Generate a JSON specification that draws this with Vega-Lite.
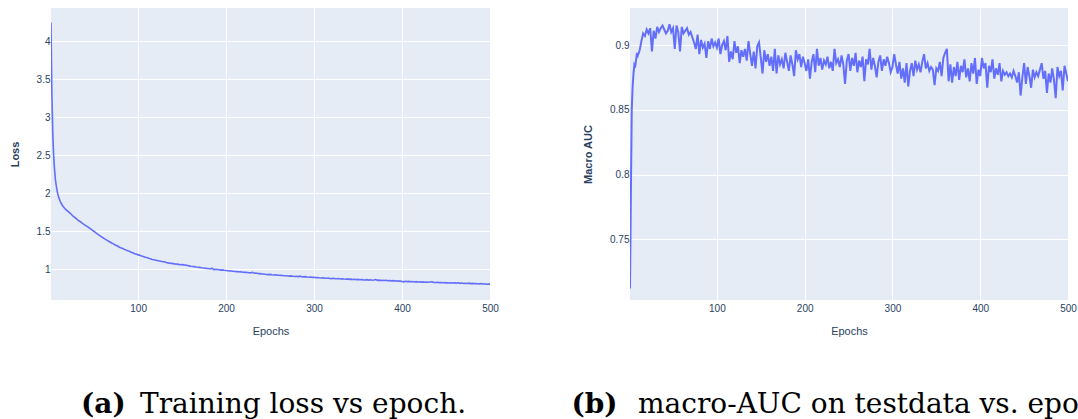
{
  "$schema": "https://vega.github.io/schema/vega-lite/v6.json",
  "padding": {"left": 9, "top": 8, "right": 0, "bottom": 0},
  "background": "#ffffff",
  "datasets": {
    "runs": [
      {"e":1,"l":4.25,"a":0.712},{"e":2,"l":3.3,"a":0.785},{"e":3,"l":2.8,"a":0.850},{"e":4,"l":2.5,"a":0.868},{"e":5,"l":2.32,"a":0.878},
      {"e":6,"l":2.18,"a":0.885},{"e":7,"l":2.1,"a":0.884},{"e":8,"l":2.03,"a":0.889},{"e":9,"l":1.98,"a":0.894},{"e":10,"l":1.94,"a":0.892},
      {"e":12,"l":1.88,"a":0.896},{"e":14,"l":1.84,"a":0.903},{"e":16,"l":1.81,"a":0.909},{"e":18,"l":1.785,"a":0.907},{"e":20,"l":1.765,"a":0.912},
      {"e":22,"l":1.745,"a":0.909},{"e":24,"l":1.725,"a":0.913},{"e":26,"l":1.70,"a":0.895},{"e":28,"l":1.685,"a":0.911},{"e":30,"l":1.665,"a":0.905},
      {"e":32,"l":1.645,"a":0.914},{"e":34,"l":1.63,"a":0.910},{"e":36,"l":1.61,"a":0.913},{"e":38,"l":1.595,"a":0.915},{"e":40,"l":1.578,"a":0.912},
      {"e":42,"l":1.565,"a":0.909},{"e":44,"l":1.55,"a":0.911},{"e":46,"l":1.532,"a":0.916},{"e":48,"l":1.515,"a":0.910},{"e":50,"l":1.498,"a":0.913},
      {"e":52,"l":1.48,"a":0.897},{"e":54,"l":1.462,"a":0.915},{"e":56,"l":1.447,"a":0.910},{"e":58,"l":1.43,"a":0.895},{"e":60,"l":1.416,"a":0.914},
      {"e":62,"l":1.40,"a":0.909},{"e":64,"l":1.387,"a":0.911},{"e":66,"l":1.372,"a":0.913},{"e":68,"l":1.36,"a":0.908},{"e":70,"l":1.346,"a":0.910},
      {"e":72,"l":1.335,"a":0.906},{"e":74,"l":1.32,"a":0.902},{"e":76,"l":1.31,"a":0.897},{"e":78,"l":1.297,"a":0.908},{"e":80,"l":1.285,"a":0.893},
      {"e":82,"l":1.276,"a":0.904},{"e":84,"l":1.265,"a":0.898},{"e":86,"l":1.256,"a":0.901},{"e":88,"l":1.245,"a":0.890},{"e":90,"l":1.237,"a":0.903},
      {"e":92,"l":1.225,"a":0.897},{"e":94,"l":1.218,"a":0.905},{"e":96,"l":1.205,"a":0.899},{"e":98,"l":1.20,"a":0.902},{"e":100,"l":1.19,"a":0.898},
      {"e":102,"l":1.185,"a":0.905},{"e":104,"l":1.175,"a":0.893},{"e":106,"l":1.17,"a":0.900},{"e":108,"l":1.16,"a":0.903},{"e":110,"l":1.155,"a":0.896},
      {"e":112,"l":1.145,"a":0.907},{"e":114,"l":1.14,"a":0.887},{"e":116,"l":1.13,"a":0.895},{"e":118,"l":1.125,"a":0.889},{"e":120,"l":1.12,"a":0.903},
      {"e":122,"l":1.115,"a":0.894},{"e":124,"l":1.11,"a":0.899},{"e":126,"l":1.105,"a":0.886},{"e":128,"l":1.10,"a":0.896},{"e":130,"l":1.10,"a":0.891},
      {"e":132,"l":1.09,"a":0.897},{"e":134,"l":1.085,"a":0.888},{"e":136,"l":1.08,"a":0.903},{"e":138,"l":1.078,"a":0.893},{"e":140,"l":1.075,"a":0.884},
      {"e":142,"l":1.07,"a":0.895},{"e":144,"l":1.068,"a":0.882},{"e":146,"l":1.065,"a":0.899},{"e":148,"l":1.06,"a":0.902},{"e":150,"l":1.062,"a":0.890},
      {"e":152,"l":1.058,"a":0.878},{"e":154,"l":1.055,"a":0.896},{"e":156,"l":1.05,"a":0.887},{"e":158,"l":1.045,"a":0.893},{"e":160,"l":1.04,"a":0.884},
      {"e":162,"l":1.038,"a":0.891},{"e":164,"l":1.035,"a":0.880},{"e":166,"l":1.03,"a":0.897},{"e":168,"l":1.028,"a":0.878},{"e":170,"l":1.025,"a":0.892},
      {"e":172,"l":1.02,"a":0.885},{"e":174,"l":1.018,"a":0.889},{"e":176,"l":1.015,"a":0.882},{"e":178,"l":1.012,"a":0.894},{"e":180,"l":1.01,"a":0.887},
      {"e":182,"l":1.005,"a":0.880},{"e":184,"l":1.015,"a":0.892},{"e":186,"l":0.995,"a":0.885},{"e":188,"l":1.0,"a":0.876},{"e":190,"l":0.998,"a":0.896},
      {"e":192,"l":0.995,"a":0.889},{"e":194,"l":0.99,"a":0.893},{"e":196,"l":0.992,"a":0.883},{"e":198,"l":0.988,"a":0.891},{"e":200,"l":0.985,"a":0.886},
      {"e":202,"l":0.982,"a":0.880},{"e":204,"l":0.98,"a":0.889},{"e":206,"l":0.978,"a":0.874},{"e":208,"l":0.975,"a":0.887},{"e":210,"l":0.972,"a":0.893},
      {"e":212,"l":0.97,"a":0.879},{"e":214,"l":0.968,"a":0.897},{"e":216,"l":0.966,"a":0.884},{"e":218,"l":0.964,"a":0.890},{"e":220,"l":0.962,"a":0.881},
      {"e":222,"l":0.96,"a":0.888},{"e":224,"l":0.958,"a":0.885},{"e":226,"l":0.955,"a":0.891},{"e":228,"l":0.953,"a":0.882},{"e":230,"l":0.96,"a":0.887},
      {"e":232,"l":0.948,"a":0.880},{"e":234,"l":0.952,"a":0.897},{"e":236,"l":0.945,"a":0.886},{"e":238,"l":0.943,"a":0.889},{"e":240,"l":0.94,"a":0.883},
      {"e":242,"l":0.938,"a":0.892},{"e":244,"l":0.935,"a":0.885},{"e":246,"l":0.932,"a":0.870},{"e":248,"l":0.93,"a":0.888},{"e":250,"l":0.933,"a":0.893},
      {"e":252,"l":0.928,"a":0.880},{"e":254,"l":0.926,"a":0.890},{"e":256,"l":0.928,"a":0.884},{"e":258,"l":0.924,"a":0.894},{"e":260,"l":0.922,"a":0.879},
      {"e":262,"l":0.92,"a":0.888},{"e":264,"l":0.918,"a":0.883},{"e":266,"l":0.916,"a":0.891},{"e":268,"l":0.915,"a":0.872},{"e":270,"l":0.912,"a":0.889},
      {"e":272,"l":0.91,"a":0.885},{"e":274,"l":0.913,"a":0.897},{"e":276,"l":0.908,"a":0.881},{"e":278,"l":0.906,"a":0.890},{"e":280,"l":0.908,"a":0.884},
      {"e":282,"l":0.904,"a":0.875},{"e":284,"l":0.91,"a":0.887},{"e":286,"l":0.902,"a":0.892},{"e":288,"l":0.9,"a":0.880},{"e":290,"l":0.903,"a":0.889},
      {"e":292,"l":0.898,"a":0.884},{"e":294,"l":0.896,"a":0.891},{"e":296,"l":0.898,"a":0.886},{"e":298,"l":0.894,"a":0.879},{"e":300,"l":0.895,"a":0.883},
      {"e":302,"l":0.89,"a":0.893},{"e":304,"l":0.892,"a":0.885},{"e":306,"l":0.888,"a":0.878},{"e":308,"l":0.886,"a":0.887},{"e":310,"l":0.888,"a":0.874},
      {"e":312,"l":0.884,"a":0.882},{"e":314,"l":0.882,"a":0.871},{"e":316,"l":0.885,"a":0.886},{"e":318,"l":0.88,"a":0.868},{"e":320,"l":0.878,"a":0.880},
      {"e":322,"l":0.882,"a":0.886},{"e":324,"l":0.876,"a":0.876},{"e":326,"l":0.875,"a":0.888},{"e":328,"l":0.878,"a":0.881},{"e":330,"l":0.873,"a":0.885},
      {"e":332,"l":0.876,"a":0.879},{"e":334,"l":0.872,"a":0.887},{"e":336,"l":0.87,"a":0.893},{"e":338,"l":0.874,"a":0.882},{"e":340,"l":0.868,"a":0.886},
      {"e":342,"l":0.871,"a":0.880},{"e":344,"l":0.866,"a":0.883},{"e":346,"l":0.869,"a":0.881},{"e":348,"l":0.864,"a":0.869},{"e":350,"l":0.867,"a":0.882},
      {"e":352,"l":0.863,"a":0.880},{"e":354,"l":0.866,"a":0.887},{"e":356,"l":0.861,"a":0.876},{"e":358,"l":0.86,"a":0.890},{"e":360,"l":0.864,"a":0.894},
      {"e":362,"l":0.858,"a":0.897},{"e":364,"l":0.862,"a":0.872},{"e":366,"l":0.857,"a":0.885},{"e":368,"l":0.86,"a":0.871},{"e":370,"l":0.865,"a":0.883},
      {"e":372,"l":0.855,"a":0.876},{"e":374,"l":0.858,"a":0.887},{"e":376,"l":0.853,"a":0.873},{"e":378,"l":0.856,"a":0.884},{"e":380,"l":0.852,"a":0.879},
      {"e":382,"l":0.855,"a":0.889},{"e":384,"l":0.85,"a":0.875},{"e":386,"l":0.853,"a":0.882},{"e":388,"l":0.848,"a":0.872},{"e":390,"l":0.851,"a":0.886},
      {"e":392,"l":0.847,"a":0.878},{"e":394,"l":0.85,"a":0.890},{"e":396,"l":0.845,"a":0.870},{"e":398,"l":0.844,"a":0.881},{"e":400,"l":0.84,"a":0.876},
      {"e":402,"l":0.835,"a":0.890},{"e":404,"l":0.843,"a":0.882},{"e":406,"l":0.838,"a":0.886},{"e":408,"l":0.841,"a":0.867},{"e":410,"l":0.836,"a":0.884},
      {"e":412,"l":0.839,"a":0.879},{"e":414,"l":0.834,"a":0.889},{"e":416,"l":0.838,"a":0.874},{"e":418,"l":0.833,"a":0.882},{"e":420,"l":0.836,"a":0.877},
      {"e":422,"l":0.832,"a":0.886},{"e":424,"l":0.835,"a":0.872},{"e":426,"l":0.83,"a":0.880},{"e":428,"l":0.833,"a":0.877},{"e":430,"l":0.829,"a":0.879},
      {"e":432,"l":0.832,"a":0.876},{"e":434,"l":0.835,"a":0.878},{"e":436,"l":0.828,"a":0.875},{"e":438,"l":0.826,"a":0.880},{"e":440,"l":0.829,"a":0.876},
      {"e":442,"l":0.825,"a":0.871},{"e":444,"l":0.827,"a":0.879},{"e":446,"l":0.823,"a":0.861},{"e":448,"l":0.826,"a":0.875},{"e":450,"l":0.822,"a":0.886},
      {"e":452,"l":0.824,"a":0.870},{"e":454,"l":0.82,"a":0.883},{"e":456,"l":0.823,"a":0.876},{"e":458,"l":0.819,"a":0.867},{"e":460,"l":0.821,"a":0.881},
      {"e":462,"l":0.818,"a":0.875},{"e":464,"l":0.822,"a":0.879},{"e":466,"l":0.815,"a":0.876},{"e":468,"l":0.82,"a":0.881},{"e":470,"l":0.814,"a":0.886},
      {"e":472,"l":0.817,"a":0.874},{"e":474,"l":0.813,"a":0.880},{"e":476,"l":0.818,"a":0.863},{"e":478,"l":0.812,"a":0.878},{"e":480,"l":0.815,"a":0.871},
      {"e":482,"l":0.811,"a":0.882},{"e":484,"l":0.814,"a":0.873},{"e":486,"l":0.81,"a":0.859},{"e":488,"l":0.808,"a":0.883},{"e":490,"l":0.812,"a":0.876},
      {"e":492,"l":0.806,"a":0.880},{"e":494,"l":0.81,"a":0.865},{"e":496,"l":0.803,"a":0.884},{"e":498,"l":0.807,"a":0.878},{"e":500,"l":0.805,"a":0.872}
    ]
  },
  "spacing": 72,
  "hconcat": [
    {
      "title": {"text": "(a)", "fontWeight": "bold", "anchor": "start", "dx": 72, "offset": -28},
      "vconcat": [
        {
          "data": {"name": "runs"},
          "width": 439,
          "height": 292,
          "title": {"text": "Training loss vs epoch.", "anchor": "start", "frame": "group", "dx": 89, "offset": 55},
          "mark": {"type": "line", "color": "#636efa", "strokeWidth": 1.6, "clip": true},
          "encoding": {
            "x": {"field": "e", "type": "quantitative", "scale": {"domain": [1, 500], "nice": false, "zero": false},
                  "axis": {"title": "Epochs", "values": [100, 200, 300, 400, 500], "format": "d"}},
            "y": {"field": "l", "type": "quantitative", "scale": {"domain": [0.596, 4.44], "nice": false, "zero": false},
                  "axis": {"title": "Loss", "values": [1, 1.5, 2, 2.5, 3, 3.5, 4], "format": "~g"}}
          }
        }
      ]
    },
    {
      "title": {"text": "(b)", "fontWeight": "bold", "anchor": "start", "dx": -11, "offset": -28},
      "vconcat": [
        {
          "data": {"name": "runs"},
          "width": 438,
          "height": 292,
          "title": {"text": "macro-AUC on testdata vs. epoch.", "anchor": "start", "frame": "group", "dx": 8, "offset": 55},
          "mark": {"type": "line", "color": "#636efa", "strokeWidth": 2, "clip": true},
          "encoding": {
            "x": {"field": "e", "type": "quantitative", "scale": {"domain": [1, 500], "nice": false, "zero": false},
                  "axis": {"title": "Epochs", "values": [100, 200, 300, 400, 500], "format": "d"}},
            "y": {"field": "a", "type": "quantitative", "scale": {"domain": [0.7031, 0.9286], "nice": false, "zero": false},
                  "axis": {"title": "Macro AUC", "values": [0.75, 0.8, 0.85, 0.9], "format": "~g"}}
          }
        }
      ]
    }
  ],
  "config": {
    "view": {"fill": "#e5ecf6", "stroke": null},
    "axis": {
      "domain": false, "ticks": false, "grid": true, "gridColor": "#ffffff", "gridWidth": 1, "gridOpacity": 1,
      "labelFont": "Liberation Sans", "labelFontSize": 10, "labelColor": "#2a3f5f",
      "titleFont": "Liberation Sans", "titleFontSize": 11, "titleColor": "#2a3f5f",
      "labelFlush": false, "labelOverlap": false
    },
    "axisY": {"titleFontWeight": "bold", "labelPadding": 1, "titlePadding": 16},
    "axisX": {"titleFontWeight": "normal", "labelPadding": 3, "titlePadding": 12},
    "title": {"font": "DejaVu Serif", "fontSize": 28, "color": "#000000", "orient": "bottom", "fontWeight": "normal"}
  }
}
